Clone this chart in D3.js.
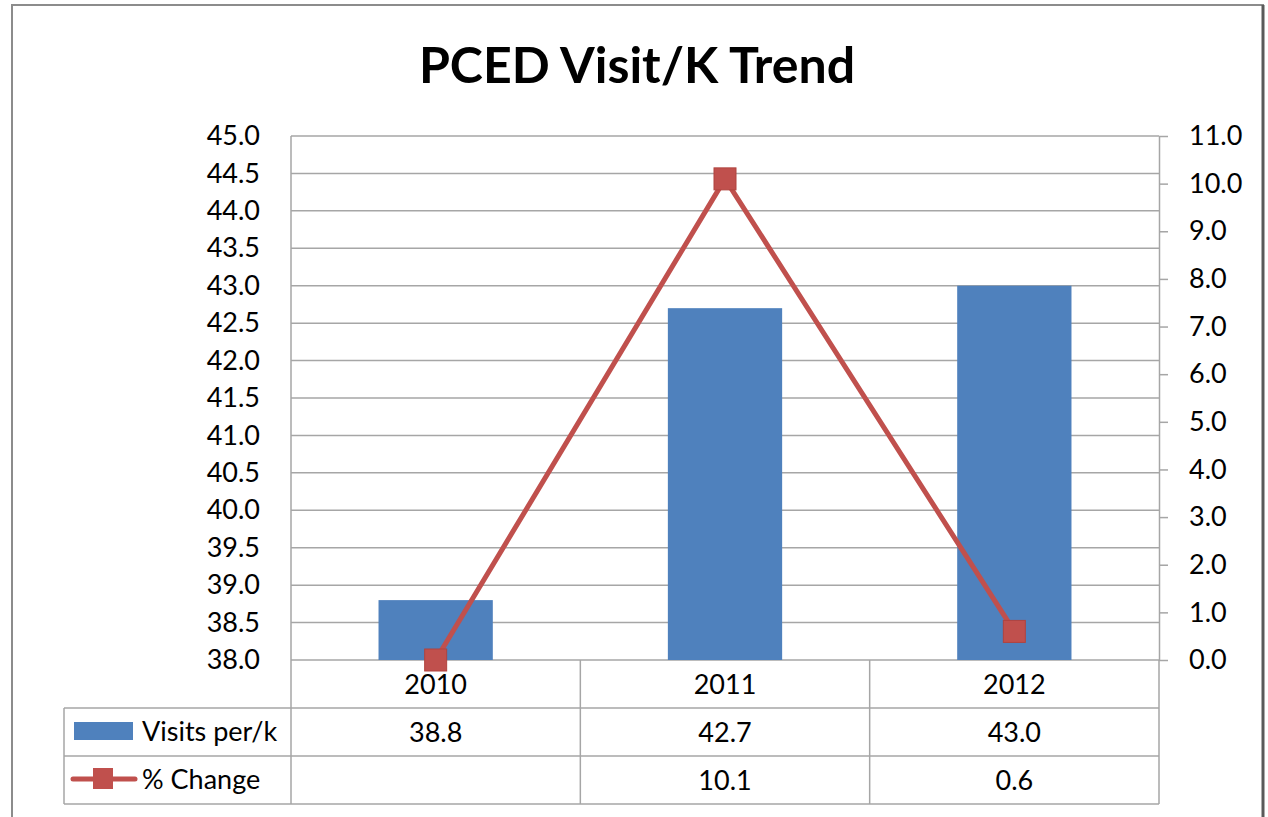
<!DOCTYPE html>
<html>
<head>
<meta charset="utf-8">
<script src="https://cdn.jsdelivr.net/npm/d3@7"></script>
<style>
  body { margin: 0; background: #fff; }
  text { font-family: Lato, "Open Sans", sans-serif; fill: #000; }
</style>
</head>
<body>
<svg id="chart" width="1268" height="817"></svg>
<script>
// chart data
var years = ["2010", "2011", "2012"];
var visits = [38.8, 42.7, 43.0];
var pctChange = [0, 10.1, 0.6];
var pctLabels = ["", "10.1", "0.6"];
var leftTicks = d3.range(38, 45.01, 0.5);
var rightTicks = d3.range(0, 11.01, 1);

var svg = d3.select("#chart");
var blue = "#4F81BD", red = "#C0504D", grid = "#A6A6A6";

var plotL = 291, plotR = 1159, plotT = 136, plotB = 660;
var rowH = 48;
var fs = "27px";

// outer frame
svg.append("rect").attr("x", 12).attr("y", 5).attr("width", 1251).attr("height", 830)
  .attr("fill", "none").attr("stroke", "#8c8c8c").attr("stroke-width", 2);
svg.append("line").attr("x1", 1263).attr("x2", 1263).attr("y1", 5).attr("y2", 817)
  .attr("stroke", "#5a5a5a").attr("stroke-width", 3);

svg.append("text").attr("x", 637).attr("y", 83).attr("text-anchor", "middle")
  .style("font-size", "50px").style("font-weight", "bold").text("PCED Visit/K Trend");

var x = d3.scaleBand().domain(years).range([plotL, plotR]).padding(0);
var yL = d3.scaleLinear().domain([38, 45]).range([plotB, plotT]);
var yR = d3.scaleLinear().domain([0, 11]).range([plotB, plotT]);

// gridlines
svg.append("g").selectAll("line").data(leftTicks).enter().append("line")
  .attr("x1", plotL).attr("x2", plotR)
  .attr("y1", function(d) { return yL(d); }).attr("y2", function(d) { return yL(d); })
  .attr("stroke", grid).attr("stroke-width", 1.5);

// left axis labels
var gl = svg.append("g").attr("transform", "translate(" + plotL + ",0)")
  .call(d3.axisLeft(yL).tickValues(leftTicks).tickFormat(d3.format(".1f")).tickSize(0).tickPadding(31));
gl.select(".domain").remove();
gl.selectAll("text").style("font-size", fs).style("font-family", "Lato, sans-serif");

// right axis
var gr = svg.append("g").attr("transform", "translate(" + plotR + ",0)")
  .call(d3.axisRight(yR).tickValues(rightTicks).tickFormat(d3.format(".1f")).tickSizeOuter(0).tickSizeInner(9).tickPadding(21));
gr.select(".domain").attr("stroke", grid).attr("stroke-width", 1.5);
gr.selectAll(".tick line").attr("stroke", grid).attr("stroke-width", 1.5);
gr.selectAll("text").style("font-size", fs).style("font-family", "Lato, sans-serif");

// bars
var bw = x.bandwidth() * 0.395;
svg.append("g").selectAll("rect").data(visits).enter().append("rect")
  .attr("x", function(d, i) { return x(years[i]) + (x.bandwidth() - bw) / 2; })
  .attr("y", function(d) { return yL(d); })
  .attr("width", bw)
  .attr("height", function(d) { return plotB - yL(d); })
  .attr("fill", blue);

// line + markers
var line = d3.line()
  .x(function(d, i) { return x(years[i]) + x.bandwidth() / 2; })
  .y(function(d) { return yR(d); });
svg.append("path").datum(pctChange).attr("d", line)
  .attr("fill", "none").attr("stroke", red).attr("stroke-width", 5).attr("stroke-linejoin", "round");
svg.append("g").selectAll("rect").data(pctChange).enter().append("rect")
  .attr("x", function(d, i) { return x(years[i]) + x.bandwidth() / 2 - 11; })
  .attr("y", function(d) { return yR(d) - 11; })
  .attr("width", 22).attr("height", 22)
  .attr("fill", red).attr("stroke", "#b0433f").attr("stroke-width", 1);

// data table
var tbl = svg.append("g").attr("stroke", grid).attr("stroke-width", 1.5);
tbl.append("line").attr("x1", plotL).attr("x2", plotL).attr("y1", plotT).attr("y2", plotB + rowH * 3);
[1, 2, 3].forEach(function(r) {
  tbl.append("line").attr("x1", 64).attr("x2", plotR)
    .attr("y1", plotB + rowH * r).attr("y2", plotB + rowH * r);
});
tbl.append("line").attr("x1", 64).attr("x2", 64).attr("y1", plotB + rowH).attr("y2", plotB + rowH * 3);
years.forEach(function(y) {
  var xe = x(y) + x.bandwidth();
  tbl.append("line").attr("x1", xe).attr("x2", xe).attr("y1", plotB).attr("y2", plotB + rowH * 3);
});

var rows = [years, visits.map(d3.format(".1f")), pctLabels];
rows.forEach(function(vals, r) {
  svg.append("g").selectAll("text").data(vals).enter().append("text")
    .attr("x", function(d, i) { return x(years[i]) + x.bandwidth() / 2; })
    .attr("y", plotB + rowH * r + 34)
    .attr("text-anchor", "middle").style("font-size", fs)
    .text(function(d) { return d; });
});

// legend keys
svg.append("rect").attr("x", 74).attr("y", 722).attr("width", 59).attr("height", 18).attr("fill", blue);
svg.append("text").attr("x", 142).attr("y", 741).style("font-size", fs).text("Visits per/k");
svg.append("line").attr("x1", 73).attr("x2", 135).attr("y1", 779).attr("y2", 779)
  .attr("stroke", red).attr("stroke-width", 5).attr("stroke-linecap", "round");
svg.append("rect").attr("x", 93).attr("y", 768).attr("width", 20).attr("height", 21).attr("fill", red);
svg.append("text").attr("x", 142).attr("y", 789).style("font-size", fs).text("% Change");
</script>
</body>
</html>
